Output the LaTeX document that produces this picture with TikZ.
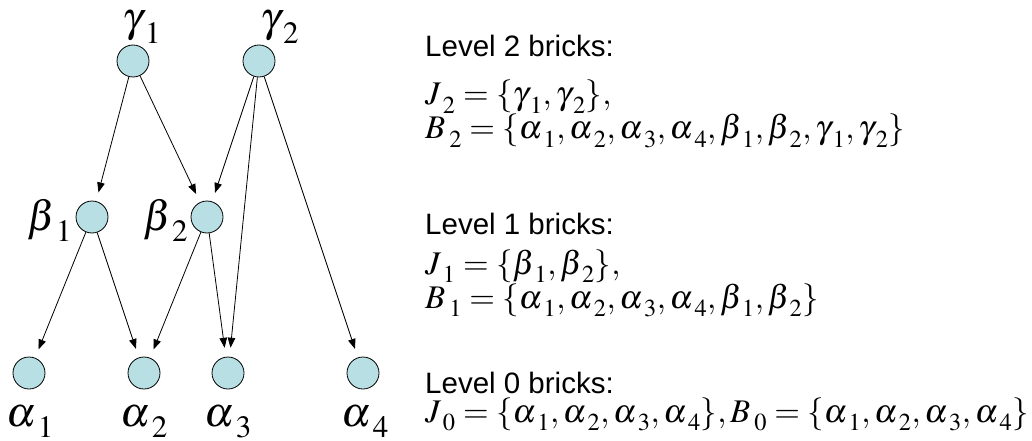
\documentclass[tikz,border=0pt]{standalone}
\usepackage{mathptmx}
\usepackage[no-math]{fontspec}
\setmainfont{Liberation Sans}
\usetikzlibrary{arrows.meta}
\definecolor{BALL}{RGB}{184,224,228}
\definecolor{INK}{HTML}{000000}
% equation-editor style subscript: a little further off and lower
\newcommand{\lo}[1]{_{\kern0.12em\lower0.12em\hbox{$\scriptstyle#1$}}}

\begin{document}
\begin{tikzpicture}[
    x=1pt, y=-1pt,
    brick/.style={circle, draw=INK, fill=BALL, line width=0.8pt, minimum size=32pt, inner sep=0pt},
    lab/.style={inner sep=0pt, anchor=base, font=\fontsize{42}{50}\selectfont},
    arr/.style={-{Triangle[length=10pt,width=7.5pt]}, INK, line width=0.8pt, shorten >=9pt},
    head/.style={inner sep=0pt, anchor=base west, font=\fontsize{29.5}{33}\selectfont},
    eq/.style={inner sep=0pt, anchor=base west, font=\fontsize{33}{38}\selectfont},
  ]
  \useasboundingbox (0,0) rectangle (1032,441);

  % ===== LEFT: brick hierarchy =====
  % nodes
  \foreach \n/\x/\y in {g1/133/61, g2/259/61, b1/92/217, b2/207/217,
                        a1/29/373, a2/144/373, a3/228/373, a4/363/373} {
    \node[brick] (\n) at (\x,\y) {};
  }
  % labels
  \node[lab] (lg1) at (142,32) {$\gamma\lo1$};
  \node[lab] (lg2) at (280,32) {$\gamma\lo2$};
  \node[lab] (lb1) at (50,230) {$\beta\lo1$};
  \node[lab] (lb2) at (166,230) {$\beta\lo2$};
  \foreach \i/\x in {1/30,2/144,3/228,4/365} {
    \node[lab] (la\i) at (\x,426) {$\alpha\lo{\i}$};
  }
  % edges
  \foreach \s/\t in {g1/b1, g1/b2, g2/b2, g2/a3, g2/a4, b1/a1, b1/a2, b2/a2, b2/a3} {
    \draw[arr] (\s) -- (\t);
  }

  % ===== RIGHT: brick sets per level =====
  \node[head] (h2) at (425,57) {Level 2 bricks:};
  \node[eq] (j2) at (425,105) {$J\lo2=\{\gamma\lo1,\gamma\lo2\},$};
  \node[eq] (s2) at (425,139) {$B\lo2=\{\alpha\lo1,\alpha\lo2,\alpha\lo3,\alpha\lo4,\beta\lo1,\beta\lo2,\gamma\lo1,\gamma\lo2\}$};

  \node[head] (h1) at (425,234) {Level 1 bricks:};
  \node[eq] (j1) at (425,274) {$J\lo1=\{\beta\lo1,\beta\lo2\},$};
  \node[eq] (s1) at (425,308) {$B\lo1=\{\alpha\lo1,\alpha\lo2,\alpha\lo3,\alpha\lo4,\beta\lo1,\beta\lo2\}$};

  \node[head] (h0) at (425,393) {Level 0 bricks:};
  \node[eq] (j0) at (425,422) {$J\lo0=\{\alpha\lo1,\alpha\lo2,\alpha\lo3,\alpha\lo4\},B\lo0=\{\alpha\lo1,\alpha\lo2,\alpha\lo3,\alpha\lo4\}$};

\end{tikzpicture}
\end{document}
